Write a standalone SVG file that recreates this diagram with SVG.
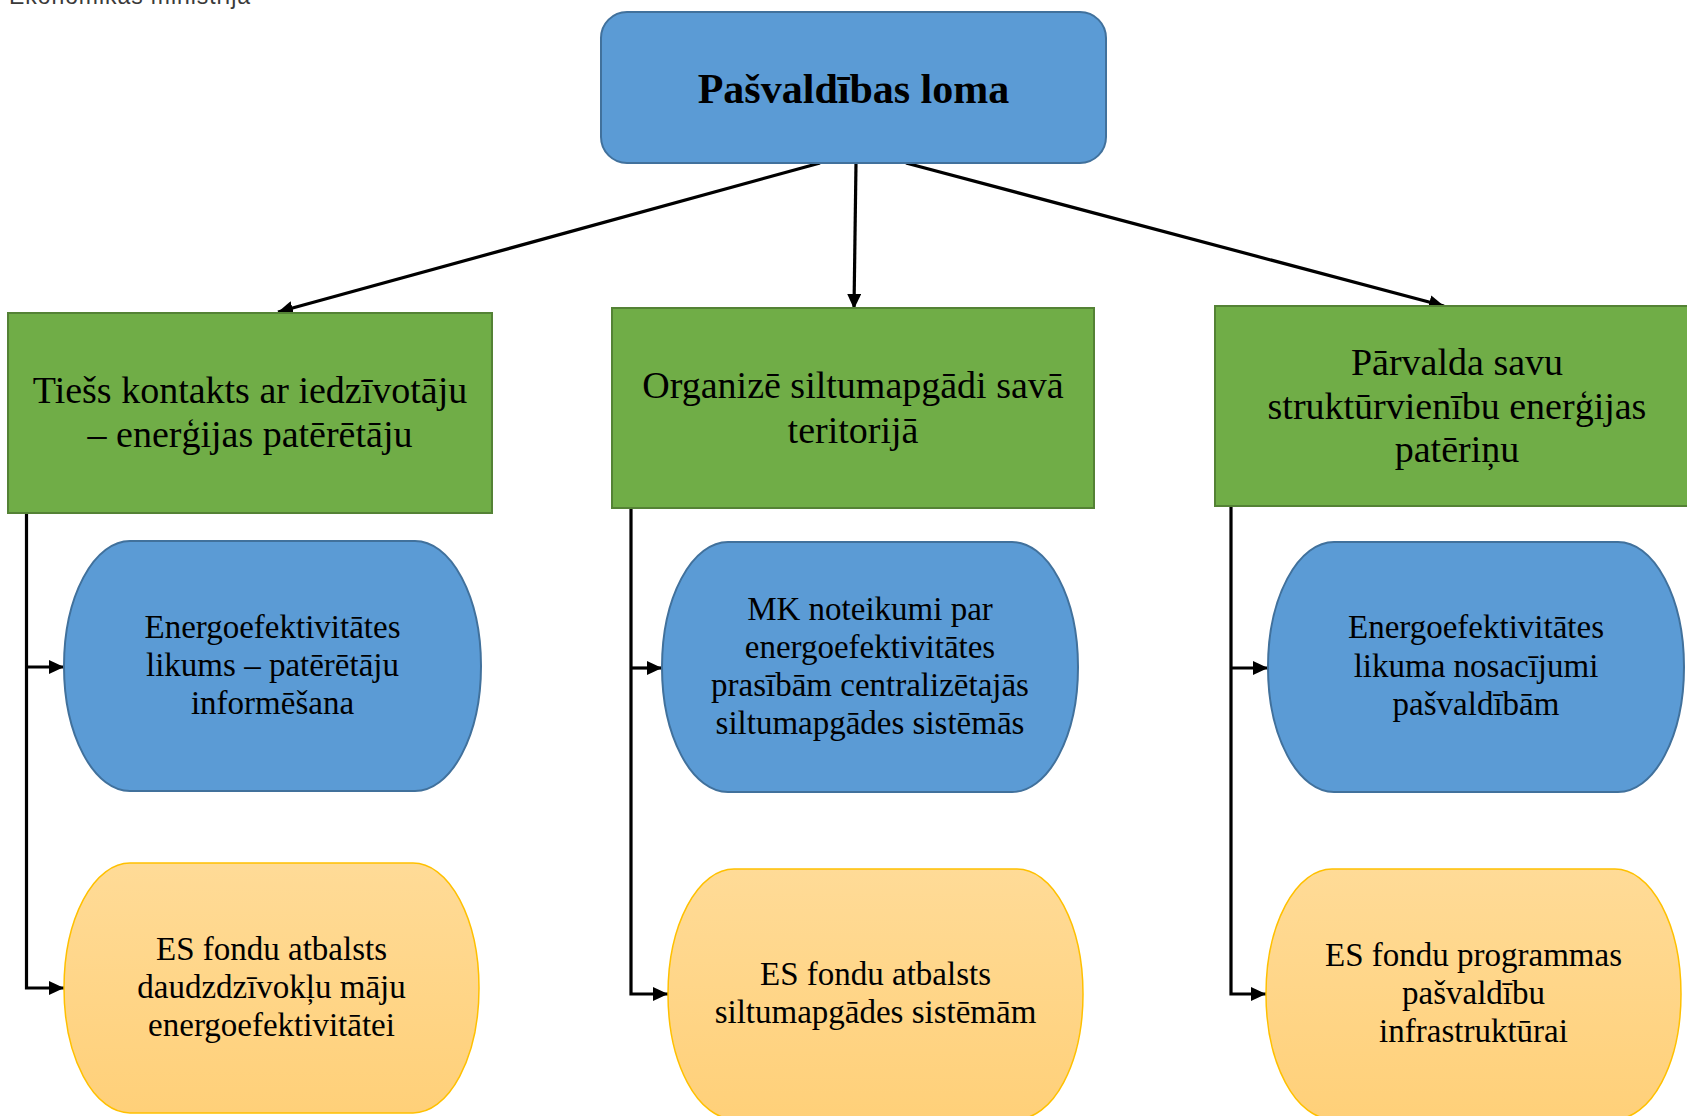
<svg xmlns="http://www.w3.org/2000/svg" width="1687" height="1116" viewBox="0 0 1687 1116">
<style>
  .t { font-family: "Liberation Serif", "Times New Roman", serif; fill: #000; text-anchor: middle; }
  .g { font-size: 38px; }
  .o { font-size: 33px; }
  .blue { fill: #5B9BD5; stroke: #41719C; stroke-width: 2; }
  .green { fill: #70AD47; stroke: #548235; stroke-width: 2; }
  .yellow { fill: url(#yg); stroke: #FFC000; stroke-width: 1.5; }
  .conn { fill: none; stroke: #000; stroke-width: 3.2; marker-end: url(#ah); }
</style>
<defs>
  <linearGradient id="yg" x1="0" y1="0" x2="0" y2="1">
    <stop offset="0" stop-color="#FFDB97"/>
    <stop offset="1" stop-color="#FFD079"/>
  </linearGradient>
  <marker id="ah" markerUnits="userSpaceOnUse" markerWidth="16" markerHeight="14" refX="15" refY="7" orient="auto">
    <path d="M0,0 L15,7 L0,14 z" fill="#000"/>
  </marker>
</defs>
<rect width="1687" height="1116" fill="#fff"/>
<text x="9" y="4" font-family="Liberation Sans, Arial, sans-serif" font-size="23" fill="#3a3a3a" textLength="241">Ekonomikas ministrija</text>

<g id="connectors">
  <path class="conn" d="M820,163 L278,312"/>
  <path class="conn" d="M856,163 L854,309"/>
  <path class="conn" d="M906,163 L1444,306"/>
  <path class="conn" d="M26.5,513 V988 H64"/>
  <path class="conn" d="M26.5,667 H64"/>
  <path class="conn" d="M631,508 V994 H668"/>
  <path class="conn" d="M631,668 H662"/>
  <path class="conn" d="M1231,506 V994 H1266"/>
  <path class="conn" d="M1231,668 H1268"/>
</g>

<g id="root">
  <rect class="blue" x="601" y="12" width="505" height="151" rx="26" ry="26"/>
  <text class="t" x="853.5" y="103" font-size="42" font-weight="bold">Pašvaldības loma</text>
</g>

<g id="green1">
  <rect class="green" x="8" y="313" width="484" height="200"/>
  <text class="t g" x="250" y="403">Tiešs kontakts ar iedzīvotāju</text>
  <text class="t g" x="250" y="447">– enerģijas patērētāju</text>
</g>
<g id="green2">
  <rect class="green" x="612" y="308" width="482" height="200"/>
  <text class="t g" x="853" y="398">Organizē siltumapgādi savā</text>
  <text class="t g" x="853" y="443">teritorijā</text>
</g>
<g id="green3">
  <rect class="green" x="1215" y="306" width="484" height="200"/>
  <text class="t g" x="1457" y="375">Pārvalda savu</text>
  <text class="t g" x="1457" y="418.5">struktūrvienību enerģijas</text>
  <text class="t g" x="1457" y="462">patēriņu</text>
</g>

<g id="blue1">
  <rect class="blue" x="64" y="541" width="417" height="250" rx="66" ry="125"/>
  <text class="t o" x="272.5" y="638">Energoefektivitātes</text>
  <text class="t o" x="272.5" y="676">likums – patērētāju</text>
  <text class="t o" x="272.5" y="714">informēšana</text>
</g>
<g id="blue2">
  <rect class="blue" x="662" y="542" width="416" height="250" rx="66" ry="125"/>
  <text class="t o" x="870" y="620">MK noteikumi par</text>
  <text class="t o" x="870" y="658">energoefektivitātes</text>
  <text class="t o" x="870" y="696">prasībām centralizētajās</text>
  <text class="t o" x="870" y="734">siltumapgādes sistēmās</text>
</g>
<g id="blue3">
  <rect class="blue" x="1268" y="542" width="416" height="250" rx="66" ry="125"/>
  <text class="t o" x="1476" y="638">Energoefektivitātes</text>
  <text class="t o" x="1476" y="677">likuma nosacījumi</text>
  <text class="t o" x="1476" y="715">pašvaldībām</text>
</g>

<g id="yellow1">
  <rect class="yellow" x="64" y="863" width="415" height="250" rx="66" ry="125"/>
  <text class="t o" x="271.5" y="960">ES fondu atbalsts</text>
  <text class="t o" x="271.5" y="998">daudzdzīvokļu māju</text>
  <text class="t o" x="271.5" y="1036">energoefektivitātei</text>
</g>
<g id="yellow2">
  <rect class="yellow" x="668" y="869" width="415" height="250" rx="66" ry="125"/>
  <text class="t o" x="875.5" y="985">ES fondu atbalsts</text>
  <text class="t o" x="875.5" y="1023">siltumapgādes sistēmām</text>
</g>
<g id="yellow3">
  <rect class="yellow" x="1266" y="869" width="415" height="250" rx="66" ry="125"/>
  <text class="t o" x="1473.5" y="966">ES fondu programmas</text>
  <text class="t o" x="1473.5" y="1004">pašvaldību</text>
  <text class="t o" x="1473.5" y="1042">infrastruktūrai</text>
</g>
</svg>
